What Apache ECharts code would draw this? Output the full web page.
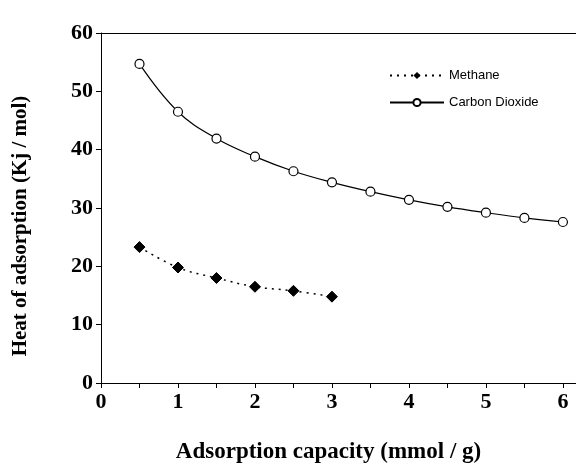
<!DOCTYPE html>
<html>
<head>
<meta charset="utf-8">
<script src="https://cdn.jsdelivr.net/npm/echarts@6/dist/echarts.min.js"></script>
<style>html,body{margin:0;padding:0;background:#fff}#c{width:576px;height:469px}</style>
</head>
<body>
<div id="c"></div>
<script>
var xCO2 = [0.5, 1, 1.5, 2, 2.5, 3, 3.5, 4, 4.5, 5, 5.5, 6];
var yCO2 = [54.7, 46.5, 41.9, 38.8, 36.3, 34.4, 32.8, 31.4, 30.2, 29.2, 28.3, 27.6];
var xCH4 = [0.5, 1, 1.5, 2, 2.5, 3];
var yCH4 = [23.3, 19.8, 18.0, 16.5, 15.8, 14.8];
var xTicks = [0, 1, 2, 3, 4, 5, 6];
var yTicks = [0, 10, 20, 30, 40, 50, 60];

function pairs(xs, ys) { return xs.map(function (x, i) { return [x, ys[i]]; }); }

var serif = '"Liberation Serif", "Times New Roman", serif';
var chart = echarts.init(document.getElementById('c'));
chart.setOption({
  animation: false,
  grid: { left: 101, right: 0, top: 33, bottom: 81 },
  legend: {
    orient: 'vertical',
    left: 384, top: 64,
    itemWidth: 54, itemHeight: 9, itemGap: 14,
    textStyle: { fontFamily: '"Liberation Sans", Arial, sans-serif', fontSize: 13, color: '#000' },
    data: ['Methane', 'Carbon Dioxide']
  },
  xAxis: [{
    type: 'value', min: 0, max: 6.17, interval: 0.5,
    name: 'Adsorption capacity (mmol / g)', nameLocation: 'middle', nameGap: 58,
    nameTextStyle: { fontFamily: serif, fontWeight: 'bold', fontSize: 23, color: '#000', padding: [0, 20, 0, 0] },
    axisLine: { lineStyle: { color: '#000', width: 1 } },
    axisTick: { show: true, length: 5, inside: false, lineStyle: { color: '#000' } },
    axisLabel: {
      fontFamily: serif, fontWeight: 'bold', fontSize: 22, color: '#000', margin: 8,
      showMaxLabel: false,
      formatter: function (v) { return xTicks.indexOf(v) >= 0 ? String(v) : ''; }
    },
    splitLine: { show: false }
  }, {
    type: 'value', position: 'top', min: 0, max: 6.17,
    axisLine: { show: true, onZero: false, lineStyle: { color: '#000', width: 1 } },
    axisTick: { show: false }, axisLabel: { show: false }, splitLine: { show: false }
  }],
  yAxis: {
    type: 'value', min: 0, max: 60, interval: 10,
    name: 'Heat of adsorption (Kj / mol)', nameLocation: 'middle', nameGap: 70,
    nameTextStyle: { fontFamily: serif, fontWeight: 'bold', fontSize: 21, color: '#000', padding: [0, 36, 0, 0] },
    axisLine: { show: true, lineStyle: { color: '#000', width: 1 } },
    axisTick: { show: true, length: 5, lineStyle: { color: '#000' } },
    axisLabel: {
      fontFamily: serif, fontWeight: 'bold', fontSize: 22, color: '#000', margin: 8,
      padding: [0, 0, 10, 0],
      formatter: function (v) { return yTicks.indexOf(v) >= 0 ? String(v) : ''; }
    },
    splitLine: { show: false }
  },
  series: [{
    name: 'Methane', type: 'line', smooth: 0.4,
    data: pairs(xCH4, yCH4),
    symbol: 'diamond', symbolSize: 11,
    itemStyle: { color: '#000', borderColor: '#000' },
    lineStyle: { color: '#000', width: 1.5, type: [2, 5] }
  }, {
    name: 'Carbon Dioxide', type: 'line', smooth: 0.4,
    data: pairs(xCO2, yCO2),
    symbol: 'circle', symbolSize: 9,
    itemStyle: { color: '#fff', borderColor: '#000', borderWidth: 1.2 },
    lineStyle: { color: '#000', width: 1.2 }
  }]
});
</script>
</body>
</html>
